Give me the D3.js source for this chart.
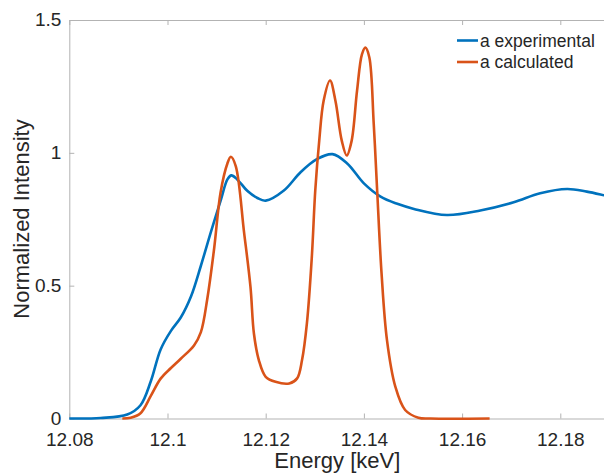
<!DOCTYPE html>
<html>
<head>
<meta charset="utf-8">
<script src="https://cdn.jsdelivr.net/npm/d3@7"></script>
<style>
  html, body { margin: 0; padding: 0; background: #fff; }
  svg { display: block; font-family: "Liberation Sans", Arial, Helvetica, sans-serif; }
</style>
</head>
<body>
<svg id="chart" width="604" height="475"></svg>
<script>
// ---- data ----
const expEnergy = [12.0800, 12.0864, 12.0918, 12.0945, 12.0966, 12.0986, 12.1007, 12.1027, 12.1048, 12.1068,
  12.1088, 12.1109, 12.1122, 12.1130, 12.1142, 12.1163, 12.1183, 12.1200, 12.1237, 12.1271,
  12.1305, 12.1336, 12.1366, 12.1400, 12.1434, 12.1468, 12.1502, 12.1569, 12.1637, 12.1705,
  12.1759, 12.1814, 12.1854, 12.1890, 12.1900];
const expIntensity = [0.000, 0.002, 0.015, 0.05, 0.14, 0.26, 0.33, 0.38, 0.46, 0.575,
  0.70, 0.825, 0.90, 0.915, 0.90, 0.856, 0.83, 0.820, 0.858, 0.927,
  0.977, 0.995, 0.960, 0.885, 0.835, 0.808, 0.789, 0.766, 0.783, 0.814,
  0.848, 0.864, 0.854, 0.840, 0.836];

const calcEnergy = [12.0908, 12.0925, 12.0945, 12.0966, 12.0986, 12.1007, 12.1027, 12.1054, 12.1068, 12.1081,
  12.1095, 12.1108, 12.1122, 12.1129, 12.1139, 12.1156, 12.1169, 12.1176, 12.1186, 12.1200,
  12.1220, 12.1248, 12.1264, 12.1274, 12.1284, 12.1294, 12.1301, 12.1309, 12.1318, 12.1331,
  12.1342, 12.1355, 12.1365, 12.1375, 12.1386, 12.1396, 12.1403, 12.1411, 12.1420, 12.1427,
  12.1436, 12.1447, 12.1464, 12.1484, 12.1511, 12.1536, 12.1656];
const calcIntensity = [0.000, 0.003, 0.02, 0.085, 0.15, 0.19, 0.225, 0.275, 0.325, 0.45,
  0.64, 0.85, 0.96, 0.985, 0.95, 0.70, 0.495, 0.32, 0.22, 0.157,
  0.138, 0.132, 0.151, 0.22, 0.36, 0.61, 0.86, 1.045, 1.196, 1.272,
  1.196, 1.045, 0.99, 1.045, 1.233, 1.371, 1.396, 1.36, 1.11, 0.858,
  0.545, 0.295, 0.12, 0.032, 0.003, 0.000, 0.000];

const xTicks = [12.08, 12.1, 12.12, 12.14, 12.16, 12.18];
const xTickLabels = ["12.08", "12.1", "12.12", "12.14", "12.16", "12.18"];
const yTicks = [0, 0.5, 1, 1.5];
const yTickLabels = ["0", "0.5", "1", "1.5"];
const seriesNames = ["a experimental", "a calculated"];
const seriesColors = ["#0072BD", "#D95319"];

// ---- layout ----
const svg = d3.select("#chart");
const L = 69.3, R = 609.4, T = 20, B = 418.5;
const x = d3.scaleLinear().domain([12.08, 12.19]).range([L, R]);
const y = d3.scaleLinear().domain([0, 1.5]).range([B, T]);
const axisColor = "#b3b3b3";
const textColor = "#262626";
const tickFont = 19;

// axes
const gx = svg.append("g").attr("transform", `translate(0,${B})`)
  .call(d3.axisBottom(x).tickValues(xTicks).tickFormat((d, i) => xTickLabels[i]).tickSizeInner(-5).tickSizeOuter(0).tickPadding(0));
const gxTop = svg.append("g").attr("transform", `translate(0,${T})`)
  .call(d3.axisTop(x).tickValues(xTicks).tickFormat("").tickSizeInner(-5).tickSizeOuter(0));
const gy = svg.append("g").attr("transform", `translate(${L},0)`)
  .call(d3.axisLeft(y).tickValues(yTicks).tickFormat((d, i) => yTickLabels[i]).tickSizeInner(-5).tickSizeOuter(0).tickPadding(8));
const gyR = svg.append("g").attr("transform", `translate(${R},0)`)
  .call(d3.axisRight(y).tickValues(yTicks).tickFormat("").tickSizeInner(-5).tickSizeOuter(0));

[gx, gxTop, gy, gyR].forEach(g => {
  g.selectAll("path.domain").attr("stroke", axisColor).attr("stroke-width", 1);
  g.selectAll(".tick line").attr("stroke", axisColor).attr("stroke-width", 1);
  g.selectAll(".tick text").attr("fill", textColor).attr("font-size", tickFont)
    .attr("font-family", "'Liberation Sans', Arial, Helvetica, sans-serif");
});
// baseline of x tick labels ~ 27px below axis
gx.selectAll(".tick text").attr("y", 27).attr("dy", null);
// y tick labels: baseline slightly above centre offset
gy.selectAll(".tick text").attr("dy", null).attr("y", 5.5);

// lines
const expData = expEnergy.map((e, i) => [e, expIntensity[i]]);
const calcData = calcEnergy.map((e, i) => [e, calcIntensity[i]]);
const line = d3.line().x(d => x(d[0])).y(d => y(d[1])).curve(d3.curveCatmullRom.alpha(0.5));

svg.append("path").datum(expData).attr("d", line)
  .attr("fill", "none").attr("stroke", seriesColors[0]).attr("stroke-width", 2.6).attr("stroke-linejoin", "round");
svg.append("path").datum(calcData).attr("d", line)
  .attr("fill", "none").attr("stroke", seriesColors[1]).attr("stroke-width", 2.6).attr("stroke-linejoin", "round");

// axis labels
svg.append("text").attr("x", (L + R) / 2 - 2).attr("y", 468)
  .attr("text-anchor", "middle").attr("font-size", 22).attr("fill", textColor).text("Energy [keV]");
svg.append("text").attr("transform", `translate(29,219) rotate(-90)`)
  .attr("text-anchor", "middle").attr("font-size", 22).attr("fill", textColor).text("Normalized Intensity");

// legend
const legY = [40.5, 62];
seriesNames.forEach((name, i) => {
  svg.append("line").attr("x1", 457).attr("x2", 478).attr("y1", legY[i]).attr("y2", legY[i])
    .attr("stroke", seriesColors[i]).attr("stroke-width", 2.6);
  svg.append("text").attr("x", 480).attr("y", legY[i] + 6.2)
    .attr("font-size", 17.5).attr("fill", textColor).text(name);
});
</script>
</body>
</html>
